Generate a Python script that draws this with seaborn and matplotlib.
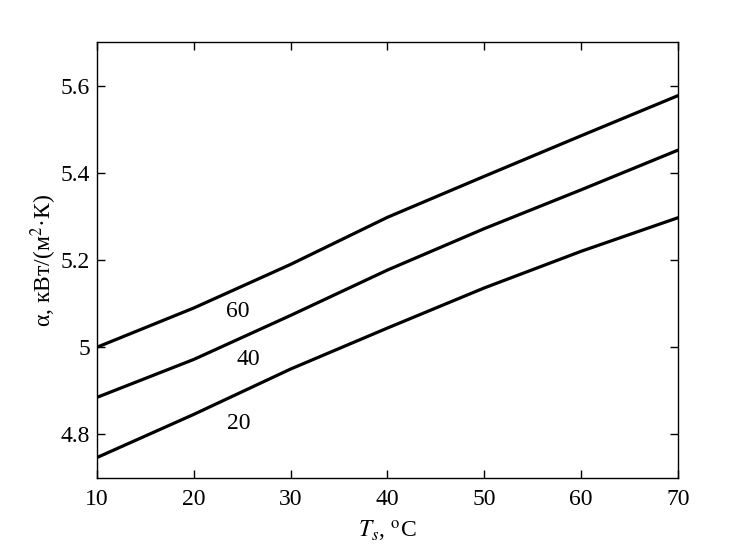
import pandas as pd
import matplotlib
matplotlib.use("Agg")
import matplotlib.pyplot as plt
import seaborn as sns
from matplotlib.ticker import FuncFormatter

# --- data ---
ts = [10, 20, 30, 40, 50, 60, 70]
alpha_20 = [4.747, 4.846, 4.950, 5.044, 5.136, 5.220, 5.297]
alpha_40 = [4.885, 4.972, 5.073, 5.177, 5.272, 5.361, 5.452]
alpha_60 = [5.000, 5.090, 5.190, 5.298, 5.392, 5.485, 5.577]
curve_names = ["20", "40", "60"]
label_x = [24.6, 25.6, 24.5]
label_y = [4.826, 4.972, 5.083]

sns.set_style("ticks")
plt.rcParams["font.family"] = ["Liberation Serif", "DejaVu Serif"]
plt.rcParams["mathtext.fontset"] = "stix"
for key in ["text.color", "axes.labelcolor", "xtick.color", "ytick.color", "axes.edgecolor"]:
    plt.rcParams[key] = "black"

df = pd.DataFrame({
    "Ts": ts * 3,
    "alpha": alpha_20 + alpha_40 + alpha_60,
    "curve": [n for n in curve_names for _ in ts],
})

fig = plt.figure(figsize=(7.49, 5.60), dpi=100)
ax = fig.add_axes([0.1295, 0.1464, 0.7757, 0.7786])

sns.lineplot(data=df, x="Ts", y="alpha", hue="curve",
             palette=["black"] * 3, linewidth=2.3, legend=False, ax=ax)

for name, lx, ly in zip(curve_names, label_x, label_y):
    ax.text(lx, ly, name, fontsize=17, ha="center", va="center")

ax.set_xlim(10, 70)
ax.set_ylim(4.7, 5.7)
ax.set_xticks([10, 20, 30, 40, 50, 60, 70])
ax.set_yticks([4.8, 5.0, 5.2, 5.4, 5.6])
ax.yaxis.set_major_formatter(FuncFormatter(lambda v, p: f"{v:g}"))
ax.tick_params(direction="in", top=True, right=True, length=6,
               width=1, labelsize=17, pad=8)
ax.tick_params(axis="y", pad=5)
for s in ax.spines.values():
    s.set_linewidth(1)
    s.set_visible(True)

ax.set_xlabel(r"$T_s$, $^{\rm o}$C", fontsize=17, labelpad=6)
ax.set_ylabel("α, кВт/(м$^2$·К)", fontsize=17, labelpad=1)

fig.savefig("out.png", dpi=100)
